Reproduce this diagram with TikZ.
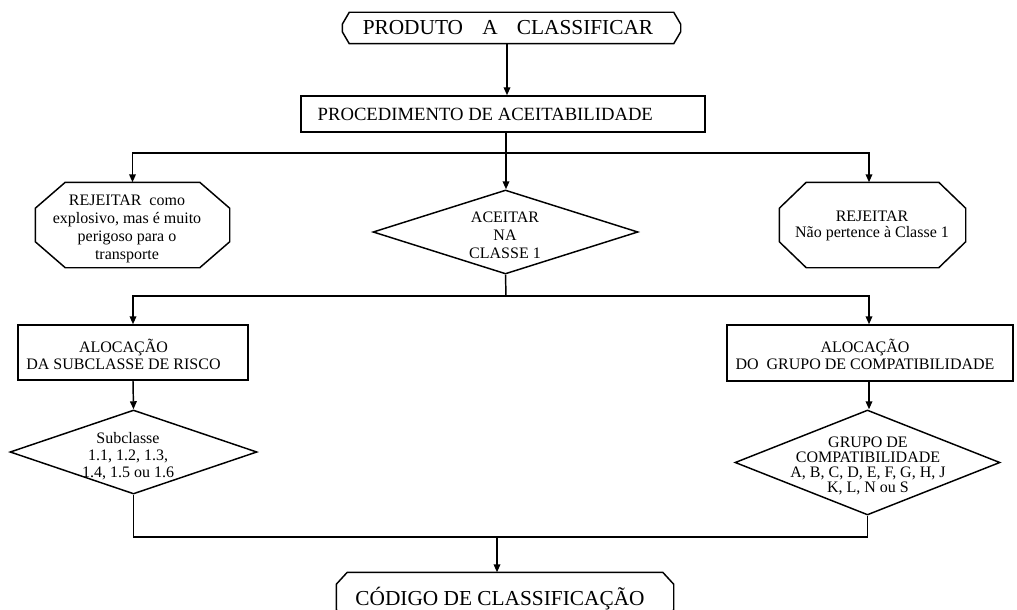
\documentclass[tikz,border=0pt]{standalone}
\usepackage{fontspec}
\setmainfont{Liberation Serif}
\usetikzlibrary{shapes.geometric,arrows.meta,calc}
\newcommand\pxu{0.75pt}
% chamfered outline round a named (undrawn) rectangle node: #1 name, #2 horizontal chamfer, #3 vertical chamfer (px)
\newcommand\octoline[3]{%
  \draw ($(#1.north west)+(#2,0)$) -- ($(#1.north east)+(-#2,0)$)
     -- ($(#1.north east)+(0,#3)$) -- ($(#1.south east)+(0,-#3)$)
     -- ($(#1.south east)+(-#2,0)$) -- ($(#1.south west)+(#2,0)$)
     -- ($(#1.south west)+(0,-#3)$) -- ($(#1.north west)+(0,#3)$) -- cycle;}
\begin{document}
\begin{tikzpicture}[x=0.75pt,y=-0.75pt,
  line width=1.1pt,
  arr/.style={-{Triangle[length=6pt,width=5pt]}},
  oct/.style={rectangle,inner sep=0pt},
  box/.style={draw,rectangle,inner sep=0pt},
  dia/.style={draw,diamond,inner sep=0pt},
  txt/.style={inner sep=0pt,align=center,font=\fontsize{12}{12.75}\selectfont},
  bigtxt/.style={inner sep=0pt,font=\fontsize{16}{16}\selectfont,anchor=base},
  line join=miter,
]
\useasboundingbox (0,0) rectangle (1017,610);

% shapes
\node[oct,minimum width=337*\pxu,minimum height=30*\pxu] (top) at (511.5,28) {};
\octoline{top}{7}{12}
\node[bigtxt] (toptxt) at (508,35) {PRODUTO\hspace{0.9em}A\hspace{0.9em}CLASSIFICAR};

\node[box,minimum width=404*\pxu,minimum height=36*\pxu] (proc) at (503,114) {};
\node[inner sep=0pt,font=\fontsize{14}{14}\selectfont,anchor=base west] (proctxt) at (317,120) {PROCEDIMENTO DE ACEITABILIDADE};

\node[oct,minimum width=193*\pxu,minimum height=84*\pxu] (rej1) at (132.5,225) {};
\octoline{rej1}{30}{26}
\node[txt,font=\fontsize{12}{13.3}\selectfont] (rej1txt) at (127,229) {REJEITAR\ \ como\\explosivo, mas é muito\\perigoso para o\\transporte};

\node[dia,minimum width=265*\pxu,minimum height=84*\pxu] (dia) at (505.5,232) {};
\node[txt,font=\fontsize{12}{13.5}\selectfont] (diatxt) at (505,235) {ACEITAR\\NA\\CLASSE 1};

\node[oct,minimum width=185*\pxu,minimum height=84*\pxu] (rej2) at (872.5,225) {};
\octoline{rej2}{27}{26}
\node[txt,font=\fontsize{12}{12}\selectfont] (rej2txt) at (872,226) {REJEITAR\\Não pertence à Classe 1};

\node[box,minimum width=230*\pxu,minimum height=55*\pxu] (alloc1) at (133,352.5) {};
\node[txt] (alloc1txt) at (123.5,354) {ALOCAÇÃO\\DA SUBCLASSE DE RISCO};

\node[box,minimum width=286*\pxu,minimum height=56*\pxu] (alloc2) at (870,353) {};
\node[txt] (alloc2txt) at (865,354) {ALOCAÇÃO\\DO\ \ GRUPO DE COMPATIBILIDADE};

\node[dia,minimum width=247*\pxu,minimum height=84*\pxu] (sub1) at (133.5,452) {};
\node[txt] (sub1txt) at (128,456) {Subclasse\\1.1, 1.2, 1.3,\\1.4, 1.5 ou 1.6};

\node[dia,minimum width=265*\pxu,minimum height=105*\pxu] (sub2) at (867.5,462.5) {};
\node[txt,font=\fontsize{12}{11.4}\selectfont] (sub2txt) at (868,466) {GRUPO DE\\COMPATIBILIDADE\\A, B, C, D, E, F, G, H, J\\K, L, N ou S};

\node[oct,minimum width=336*\pxu,minimum height=48*\pxu] (code) at (505,597) {};
\octoline{code}{11}{12}
\node[bigtxt] (codetxt) at (500,605) {CÓDIGO DE CLASSIFICAÇÃO};

% helper coordinates
\coordinate (a1) at (507,0);
\coordinate (sp) at (506,0);
\coordinate (br1) at (506,153);
\coordinate (br2) at (506,296);
\coordinate (r2x) at (869,0);
\coordinate (br3) at (497,537);

% connectors
\draw[arr] (a1 |- top.south) -- (a1 |- proc.north);
\draw[arr] (sp |- proc.south) -- (sp |- dia.north);
\draw[arr] (br1) -| (rej1.north);
\draw[arr] (br1) -| (r2x |- rej2.north);
\draw (dia.south) -- (br2);
\draw[arr] (br2) -| (alloc1.north);
\draw[arr] (br2) -| (r2x |- alloc2.north);
\draw[arr] (alloc1.south) -- (sub1.north);
\draw[arr] (r2x |- alloc2.south) -- (r2x |- sub2.north);
\draw (sub1.south) |- (sub2.south |- br3) -- (sub2.south);
\draw[arr] (br3) -- (br3 |- code.north);
\end{tikzpicture}
\end{document}
